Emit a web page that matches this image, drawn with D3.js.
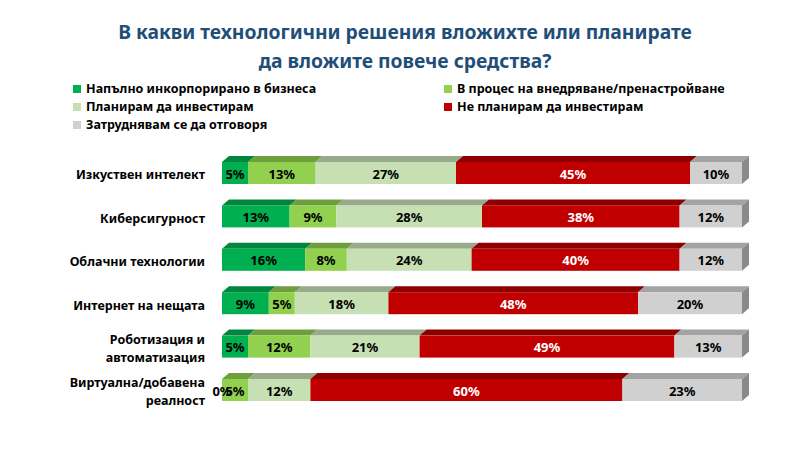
<!DOCTYPE html>
<html>
<head>
<meta charset="utf-8">
<script src="https://cdn.jsdelivr.net/npm/d3@7"></script>
<style>
  body { margin: 0; background: #fff; }
  svg { font-family: "Noto Sans", "DejaVu Sans", sans-serif; font-weight: bold; }
</style>
</head>
<body>
<svg></svg>
<script>
const categories = [
    ["Изкуствен интелект"],
    ["Киберсигурност"],
    ["Облачни технологии"],
    ["Интернет на нещата"],
    ["Роботизация и", "автоматизация"],
    ["Виртуална/добавена", "реалност"]
];

const seriesNames = [
    "Напълно инкорпорирано в бизнеса",
    "В процес на внедряване/пренастройване",
    "Планирам да инвестирам",
    "Не планирам да инвестирам",
    "Затруднявам се да отговоря"
];

// values per category, in series order
const fullyIncorporated = [5, 13, 16, 9, 5, 0];
const inProcess = [13, 9, 8, 5, 12, 5];
const planning = [27, 28, 24, 18, 21, 12];
const notPlanning = [45, 38, 40, 48, 49, 60];
const cantAnswer = [10, 12, 12, 20, 13, 23];

const titleLines = ["В какви технологични решения вложихте или планирате", "да вложите повече средства?"];

const frontColors = ["#00b050", "#92d050", "#c6e0b4", "#c00000", "#d0d0d0"];
const topColors = ["#00873d", "#6f9f3c", "#98aa8c", "#8e0000", "#a3a3a3"];
const sideColor = "#8a8a8a";
const labelColors = ["#000", "#000", "#000", "#fff", "#000"];

const svgWidth = 789, svgHeight = 451;
const svg = d3.select("svg").attr("width", svgWidth).attr("height", svgHeight);

const allSeries = [fullyIncorporated, inProcess, planning, notPlanning, cantAnswer];
const rows = categories.map((c, i) => {
    let acc = 0;
    return allSeries.map((s, k) => {
        const seg = { key: k, value: s[i], x0: acc, x1: acc + s[i] };
        acc += s[i];
        return seg;
    });
});

const x = d3.scaleLinear().domain([0, 100]).range([222, 742]);
const y = d3.scaleBand()
    .domain(d3.range(categories.length))
    .range([162, 401])
    .paddingInner(0.493)
    .paddingOuter(0);

const h = y.bandwidth();
const dx = 7, dy = 6;

// title
svg.append("g").selectAll("text")
    .data(titleLines)
    .join("text")
    .attr("x", 405)
    .attr("y", (d, i) => 39 + i * 29)
    .attr("text-anchor", "middle")
    .attr("fill", "#1f4e79")
    .attr("font-size", 19.3)
    .text(d => d);

// legend
const legend = svg.append("g");
const legendItems = legend.selectAll("g")
    .data(seriesNames)
    .join("g")
    .attr("transform", (d, i) => "translate(" + (i % 2 === 0 ? 73 : 444) + "," + (89 + Math.floor(i / 2) * 18) + ")");

legendItems.append("rect")
    .attr("x", 0)
    .attr("y", -4)
    .attr("width", 8)
    .attr("height", 8)
    .attr("fill", (d, i) => frontColors[i]);

legendItems.append("text")
    .attr("x", 13)
    .attr("dy", "0.35em")
    .attr("font-size", 12.5)
    .attr("fill", "#000")
    .text(d => d);

// category labels
const catLabels = svg.append("g").selectAll("text")
    .data(categories)
    .join("text")
    .attr("text-anchor", "end")
    .attr("font-size", 12.5)
    .attr("fill", "#000");

catLabels.each(function(lines, i) {
    const cy = y(i) + h / 2 + 2;
    d3.select(this).selectAll("tspan")
        .data(lines)
        .join("tspan")
        .attr("x", 205)
        .attr("y", (d, j) => cy + (j - (lines.length - 1) / 2) * 18)
        .attr("dy", "0.35em")
        .text(d => d);
});

// bars
const barRows = svg.append("g").selectAll("g")
    .data(rows)
    .join("g")
    .attr("transform", (d, i) => "translate(0," + y(i) + ")");

barRows.selectAll("path.top")
    .data(d => d.filter(s => s.value > 0))
    .join("path")
    .attr("class", "top")
    .attr("fill", d => topColors[d.key])
    .attr("d", d => {
        const a = x(d.x0), b = x(d.x1);
        return "M" + a + ",0L" + b + ",0L" + (b + dx) + "," + (-dy) + "L" + (a + dx) + "," + (-dy) + "Z";
    });

barRows.selectAll("rect.front")
    .data(d => d.filter(s => s.value > 0))
    .join("rect")
    .attr("class", "front")
    .attr("x", d => x(d.x0))
    .attr("y", 0)
    .attr("width", d => x(d.x1) - x(d.x0))
    .attr("height", h)
    .attr("fill", d => frontColors[d.key]);

barRows.append("path")
    .attr("fill", sideColor)
    .attr("d", d => {
        const b = x(d[d.length - 1].x1);
        return "M" + b + ",0L" + (b + dx) + "," + (-dy) + "L" + (b + dx) + "," + (h - dy) + "L" + b + "," + h + "Z";
    });

barRows.selectAll("text")
    .data(d => d)
    .join("text")
    .attr("x", d => (x(d.x0) + x(d.x1)) / 2)
    .attr("y", h / 2 + 1)
    .attr("dy", "0.35em")
    .attr("text-anchor", "middle")
    .attr("font-size", 13)
    .attr("fill", d => labelColors[d.key])
    .text(d => d.value + "%");
</script>
</body>
</html>
